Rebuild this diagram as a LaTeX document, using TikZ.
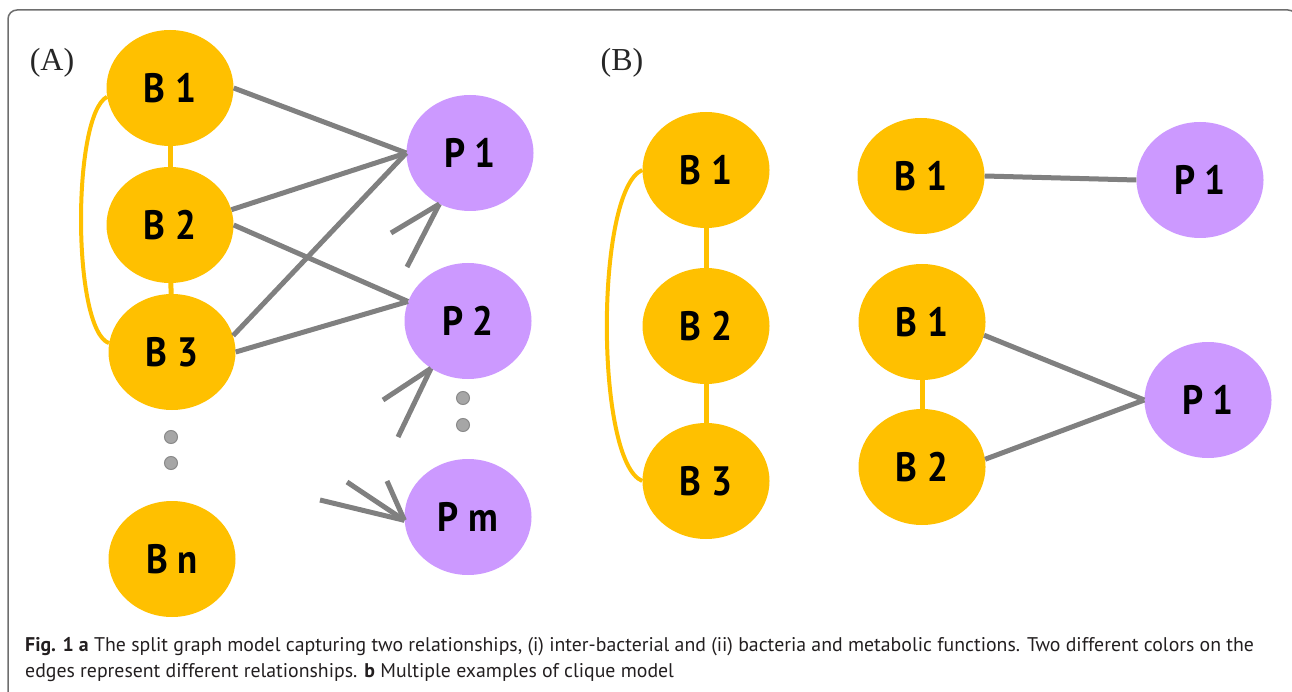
\documentclass[tikz,border=0pt]{standalone}
\usepackage{fontspec}
\setmainfont{Liberation Serif}
\newfontfamily\labelfont{PT Sans}
\usetikzlibrary{shapes.geometric}

\definecolor{bact}{HTML}{FFC000}
\definecolor{func}{HTML}{CC99FF}
\definecolor{edgegray}{HTML}{808080}
\definecolor{dotfill}{HTML}{A6A6A6}
\definecolor{dotline}{HTML}{8A8A8A}
\definecolor{framegray}{HTML}{6E6E6E}
\definecolor{captext}{HTML}{231F20}

% vertex label: bold sans, slightly condensed
\newcommand{\vlabel}[1]{\scalebox{0.9}[1]{#1}}

\begin{document}
\begin{tikzpicture}[x=1pt, y=-1pt,
  vert/.style={ellipse, minimum width=127pt, minimum height=116pt, inner sep=0pt,
    font=\labelfont\bfseries\fontsize{41pt}{41pt}\selectfont},
  bnode/.style={vert, fill=bact},
  pnode/.style={vert, fill=func},
  bblink/.style={draw=bact, line width=5pt},
  bparc/.style={draw=bact, line width=4pt},
  bplink/.style={draw=edgegray, line width=5pt},
  gapdot/.style={circle, minimum size=13pt, inner sep=0pt, fill=dotfill, draw=dotline, line width=1pt},
  panel/.style={font=\fontsize{32pt}{32pt}\selectfont, text=black!85, anchor=base, inner sep=0pt},
  captionline/.style={anchor=base west, inner sep=0pt, text=captext,
    font=\labelfont\fontsize{19.8pt}{24pt}\selectfont}]

\useasboundingbox (0,0) rectangle (1292,692);

% outer frame, open at the bottom
\draw[framegray, line width=1.5pt, rounded corners=9pt]
  (8,700) -- (8,10) -- (1297,10) -- (1297,700);

% ---------- panel A: split graph ----------
\node[panel] (labA) at (52,71) {(A)};

\node[bnode] (a1) at (170,88)  {\vlabel{B 1}};
\node[bnode] (a2) at (170,225) {\vlabel{B 2}};
\node[bnode] (a3) at (172,352) {\vlabel{B 3}};
\node[bnode] (an) at (172,559) {\vlabel{B n}};

\node[gapdot] (da1) at (171,437) {};
\node[gapdot] (da2) at (171,463) {};

\node[pnode] (p1) at (470,153) {\vlabel{P 1}};
\node[pnode] (p2) at (468,321) {\vlabel{P 2}};
\node[pnode] (pm) at (468,517) {\vlabel{P m}};

\node[gapdot] (dp1) at (463,398) {};
\node[gapdot] (dp2) at (463,425) {};

% inter-bacterial edges
\draw[bblink] (a1) -- (a2);
\draw[bblink] (a2) -- (a3);
\draw[bparc] (a1.188) .. controls (72,115) and (72,330) .. (a3.172);

% bacteria--function edges
\draw[bplink] (a1.east) -- (p1.west);
\draw[bplink] (a2.14)   -- (p1.west);
\draw[bplink] (a3.15)   -- (p1.west);
\draw[bplink] (a2.east) -- (p2.162);
\draw[bplink] (a3.east) -- (p2.162);

% edges coming from the elided bacteria
\coordinate (f1) at (391,233);
\coordinate (f2) at (407,267);
\coordinate (f3) at (383,400);
\coordinate (f4) at (398,437);
\coordinate (f5) at (320,500);
\coordinate (f6) at (347,482);
\coordinate (f7) at (387,481);
\draw[bplink] (f1) -- (p1.239);
\draw[bplink] (f2) -- (p1.239);
\draw[bplink] (f3) -- (p2.232);
\draw[bplink] (f4) -- (p2.232);
\draw[bplink] (f5) -- (pm.183);
\draw[bplink] (f6) -- (pm.183);
\draw[bplink] (f7) -- (pm.183);

% ---------- panel B: clique examples ----------
\node[panel] (labB) at (622,71) {(B)};

\node[bnode] (c1) at (706,170) {\vlabel{B 1}};
\node[bnode] (c2) at (706,326) {\vlabel{B 2}};
\node[bnode] (c3) at (706,481) {\vlabel{B 3}};
\draw[bblink] (c1) -- (c2);
\draw[bblink] (c2) -- (c3);
\draw[bparc] (c1.west) .. controls (595,190) and (595,462) .. (c3.west);

\node[bnode] (s1) at (921,176) {\vlabel{B 1}};
\node[pnode] (t1) at (1200,180) {\vlabel{P 1}};
\draw[bplink] (s1.east) -- (t1.west);

\node[bnode] (u1) at (922,322) {\vlabel{B 1}};
\node[bnode] (u2) at (922,467) {\vlabel{B 2}};
\node[pnode] (v1) at (1208,400) {\vlabel{P 1}};
\draw[bblink] (u1) -- (u2);
\draw[bplink] (u1.-12) -- (v1.west);
\draw[bplink] (u2.7)   -- (v1.west);

% ---------- caption ----------
\node[captionline] (cap1) at (25,651)
  {\textbf{Fig. 1 a} The split graph model capturing two relationships, (i) inter-bacterial and (ii) bacteria and metabolic functions. Two different colors on the};
\node[captionline] (cap2) at (25,677)
  {edges represent different relationships. \textbf{b} Multiple examples of clique model};

\end{tikzpicture}
\end{document}
